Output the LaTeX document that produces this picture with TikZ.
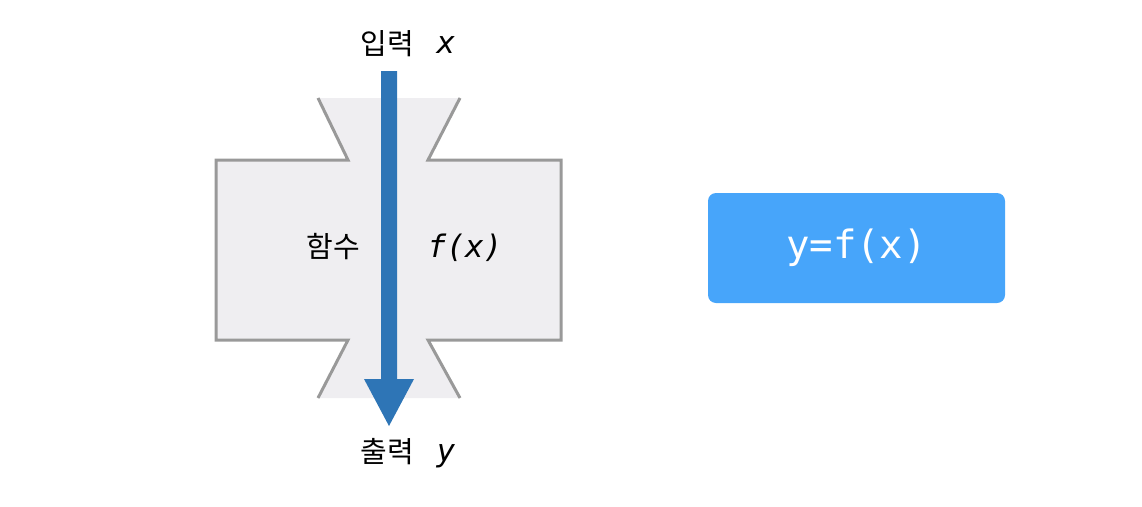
\documentclass[tikz,border=0pt]{standalone}
\usepackage{fontspec}
\newfontfamily\kr{Noto Sans CJK KR}
\newfontfamily\mono{DejaVu Sans Mono}
\newfontfamily\monoit{DejaVu Sans Mono Oblique}
\definecolor{boxfill}{HTML}{EFEEF1}
\definecolor{boxline}{HTML}{999999}
\definecolor{arrowblue}{HTML}{2E75B6}
\definecolor{lightblue}{HTML}{47A5FA}
\begin{document}
\begin{tikzpicture}[x=1pt,y=-1pt,
  krtext/.style={inner sep=0pt,font=\kr\fontsize{29}{33}\selectfont},
  ittext/.style={inner sep=0pt,font=\monoit\fontsize{31}{35}\selectfont},
  outline/.style={draw=boxline,line width=3pt,line join=miter}]
\useasboundingbox (0,0) rectangle (1142,506);
% body fill
\fill[boxfill] (318,98) -- (460,98) -- (428,160) -- (561,160) -- (561,340) -- (428,340) -- (460,398) -- (318,398) -- (348,340) -- (216,340) -- (216,160) -- (348,160) -- cycle;
% outlines
\draw[outline] (318,98) -- (348,160) -- (216,160) -- (216,340) -- (348,340) -- (318,398);
\draw[outline] (460,98) -- (428,160) -- (561,160) -- (561,340) -- (428,340) -- (460,398);
% arrow
\coordinate (atop) at (389,71);
\coordinate (atip) at (389,426);
\fill[arrowblue] (381,71) -- (397,71) -- (397,379) -- (414,379) -- (atip) -- (364,379) -- (381,379) -- cycle;
% labels
\node[krtext] (in) at (387,44) {입력};
\node[ittext] (inx) at (446,45) {x};
\node[krtext] (out) at (387,452) {출력};
\node[ittext] (outy) at (446,456) {y};
\node[krtext] (fn) at (333,247) {함수};
\node[ittext] (fx) at (465,248) {f(x)};
% right box
\node[fill=lightblue,rounded corners=8pt,minimum width=297pt,minimum height=110pt,inner sep=0pt,text=white,font=\mono\fontsize{39}{44}\selectfont] (eq) at (856.5,248) {y=f(x)};
\end{tikzpicture}
\end{document}
